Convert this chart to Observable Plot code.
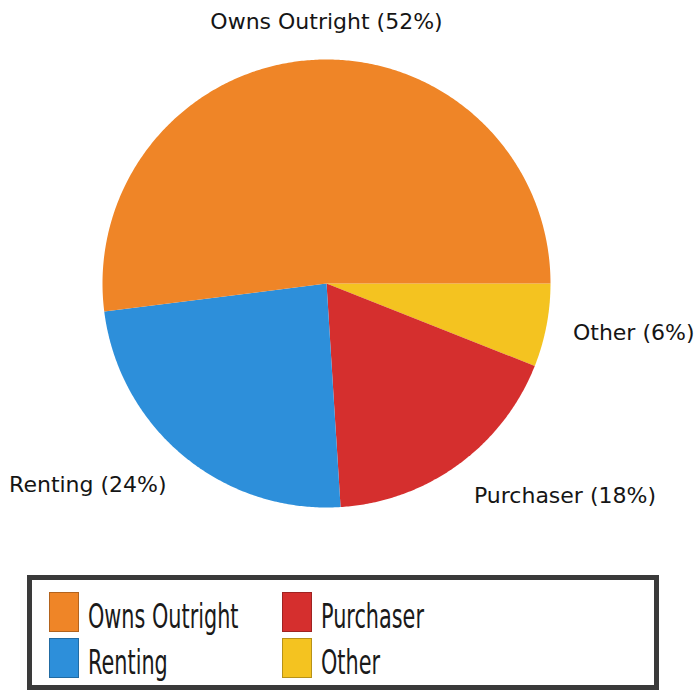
<!DOCTYPE html>
<html>
<head>
<meta charset="utf-8">
<script src="https://cdn.jsdelivr.net/npm/d3@7"></script>
<script src="https://cdn.jsdelivr.net/npm/@observablehq/plot@0.6"></script>
<style>
  html, body { margin: 0; padding: 0; background: #fff; }
  #chart svg { display: block; }
  #legend {
    position: relative; margin-left: 27px; margin-top: 10px;
    width: 632px; height: 115px; box-sizing: border-box;
    border: 5px solid #3a3a3a; background: #fff;
    font-family: "DejaVu Sans", sans-serif; color: #1a1a1a;
  }
  .sw { position: absolute; width: 30px; height: 40px; box-sizing: border-box; border: 1px solid rgba(0,0,0,0.25); }
  .lt { position: absolute; font-size: 33px; line-height: 33px; white-space: nowrap; transform: scaleX(0.63); transform-origin: 0 0; }
</style>
</head>
<body>
<div id="chart"></div>
<div id="legend"></div>
<script>
// Data
const categories = ["Owns Outright", "Renting", "Purchaser", "Other"];
const shares = [52, 24, 18, 6];
const colors = ["#EF8527", "#2D8FDA", "#D52F2E", "#F4C320"];
// drawing order, clockwise from 3 o'clock
const pieOrder = ["Other", "Purchaser", "Renting", "Owns Outright"];

const rows = pieOrder.map(c => ({category: c, share: shares[categories.indexOf(c)]}));
const arcs = d3.pie().sort(null).value(d => d.share)
  .startAngle(Math.PI / 2).endAngle(Math.PI / 2 + 2 * Math.PI)(rows);

// polygon outline points for each slice on the unit circle
const slicePts = [];
for (const a of arcs) {
  const c = a.data.category;
  slicePts.push({category: c, x: 0, y: 0});
  const n = Math.max(2, Math.ceil((a.endAngle - a.startAngle) / (Math.PI / 360)));
  for (let i = 0; i <= n; i++) {
    const t = a.startAngle + (a.endAngle - a.startAngle) * i / n;
    slicePts.push({category: c, x: Math.sin(t), y: Math.cos(t)});
  }
}

// labels placed outside at mid angle
const labels = arcs.map(a => {
  const m = (a.startAngle + a.endAngle) / 2;
  const s = Math.sin(m), co = Math.cos(m);
  const side = Math.abs(s) < 0.3 ? "middle" : (s > 0 ? "start" : "end");
  return {
    text: `${a.data.category} (${a.data.share}%)`,
    x: side === "middle" ? 0 : 1.12 * s,
    y: side === "middle" ? 1.17 * co : 1.17 * co,
    side
  };
});

const textOpts = {x: "x", y: "y", text: "text", fontSize: 22, fill: "#151515",
  fontFamily: "DejaVu Sans, sans-serif"};

const chart = Plot.plot({
  width: 696,
  height: 565,
  margin: 0,
  x: {domain: [-1, 1], range: [102, 550], axis: null},
  y: {domain: [-1, 1], range: [507, 59], axis: null},
  color: {domain: categories, range: colors},
  marks: [
    Plot.line(slicePts, {x: "x", y: "y", z: "category", fill: "category", stroke: "none", curve: "linear-closed"}),
    Plot.text(labels, {...textOpts, filter: d => d.side === "middle", textAnchor: "middle"}),
    Plot.text(labels, {...textOpts, filter: d => d.side === "start", textAnchor: "start"}),
    Plot.text(labels, {...textOpts, filter: d => d.side === "end", textAnchor: "end"})
  ]
});
document.getElementById("chart").appendChild(chart);

// legend: two columns, two rows
const legend = document.getElementById("legend");
const legendOrder = ["Owns Outright", "Purchaser", "Renting", "Other"];
legendOrder.forEach((c, i) => {
  const col = i % 2, row = Math.floor(i / 2);
  const left = 17 + col * 233, top = 12 + row * 46;
  const sw = document.createElement("div");
  sw.className = "sw";
  sw.style.left = left + "px";
  sw.style.top = top + "px";
  sw.style.background = colors[categories.indexOf(c)];
  legend.appendChild(sw);
  const t = document.createElement("div");
  t.className = "lt";
  t.textContent = c;
  t.style.left = (left + 39) + "px";
  t.style.top = (top + 8) + "px";
  legend.appendChild(t);
});
</script>
</body>
</html>
